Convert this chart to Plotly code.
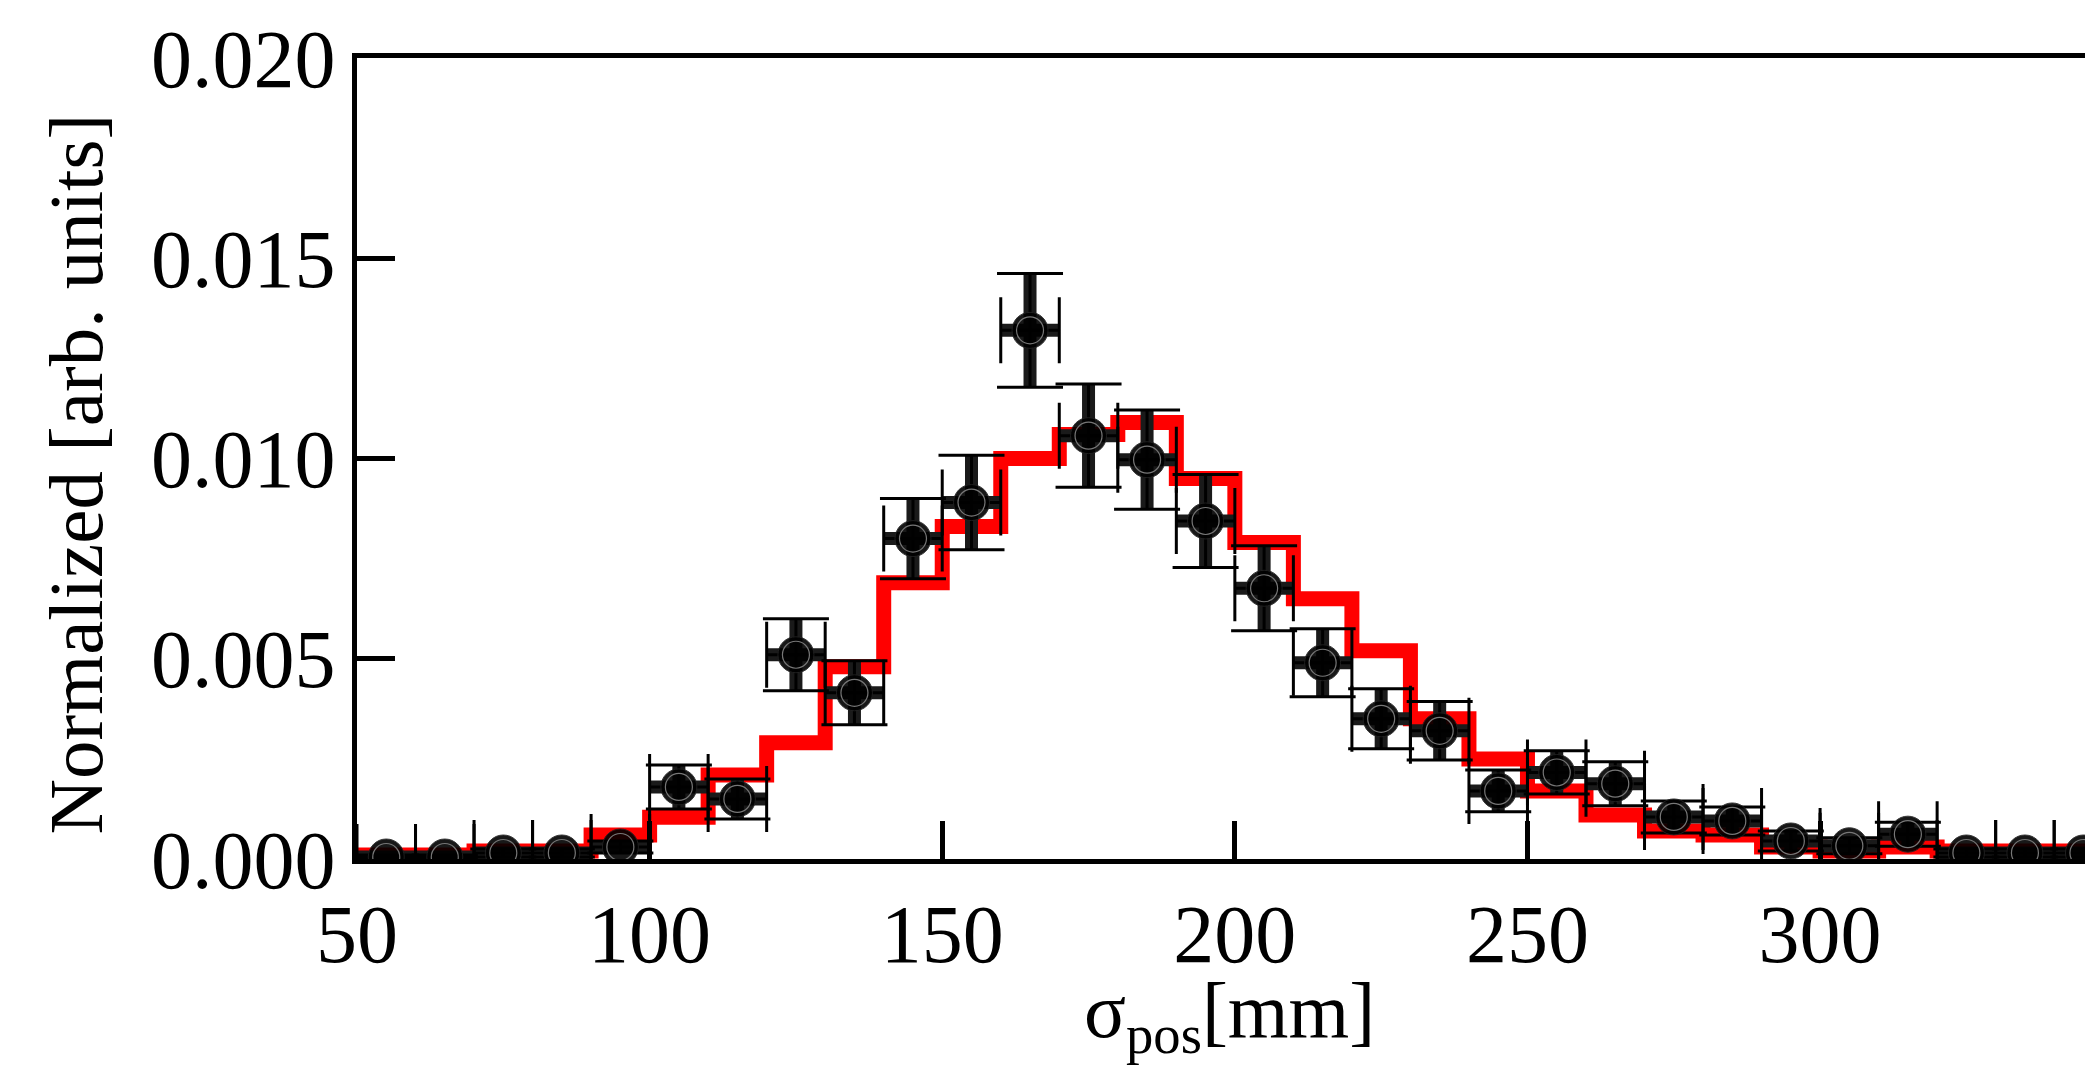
import plotly.graph_objects as go

# Bin layout (mm)
bin_edges = list(range(50, 360, 10))            # 50 ... 350
bin_centers = [e + 5 for e in bin_edges[:-1]]   # 55 ... 345

# Simulation histogram (red step line), one value per bin
sim_values = [0.0001, 0.0001, 0.0002, 0.0002, 0.0006, 0.00104, 0.0021, 0.0029,
              0.0048, 0.0069, 0.0083, 0.0100, 0.0106, 0.0109, 0.0095, 0.0079,
              0.0065, 0.0052, 0.0035, 0.0025, 0.0017, 0.0011, 0.0007, 0.0006,
              0.0003, 0.0002, 0.0003, 0.0002, 0.0002, 0.0002]

# Data points (black markers) with vertical errors
data_values = [0.00005, 0.00005, 0.00015, 0.00015, 0.0003, 0.0018, 0.0015, 0.0051,
               0.00415, 0.0080, 0.0089, 0.0132, 0.01057, 0.00997, 0.00844, 0.00676,
               0.0049, 0.0035, 0.0032, 0.0017, 0.00216, 0.00188, 0.00105, 0.00095,
               0.00045, 0.00033, 0.00062, 0.00015, 0.00015, 0.00015]
data_errors = [0.00005, 0.00005, 0.0001, 0.0001, 0.00015, 0.00055, 0.0005, 0.0009,
               0.0008, 0.0010, 0.00118, 0.00142, 0.00129, 0.00124, 0.00116, 0.00106,
               0.00085, 0.00075, 0.00073, 0.00052, 0.00054, 0.00055, 0.0004, 0.00035,
               0.00025, 0.0002, 0.0003, 0.0001, 0.0001, 0.0001]
half_bin = 5

y_ticks = [0.0, 0.005, 0.010, 0.015, 0.020]
x_ticks = [50, 100, 150, 200, 250, 300]

FONT = "Liberation Serif"
FS = 82

fig = go.Figure()

# red step histogram
fig.add_trace(go.Scatter(
    x=bin_edges, y=sim_values + [sim_values[-1]],
    mode="lines", line=dict(color="#ff0000", width=15, shape="hv"),
    hoverinfo="skip", showlegend=False))

# thick error-bar stems
fig.add_trace(go.Scatter(
    x=bin_centers, y=data_values, mode="markers",
    marker=dict(size=1, color="rgba(0,0,0,0)"),
    error_y=dict(type="data", array=data_errors, visible=True,
                 color="#1a1a1a", thickness=13, width=0),
    error_x=dict(type="constant", value=half_bin, visible=True,
                 color="#1a1a1a", thickness=13, width=0),
    hoverinfo="skip", showlegend=False))

# markers with thin caps
fig.add_trace(go.Scatter(
    x=bin_centers, y=data_values, mode="markers",
    marker=dict(size=36, color="black", opacity=0.9,
                line=dict(color="#222", width=1)),
    error_y=dict(type="data", array=data_errors, visible=True,
                 color="black", thickness=3, width=33),
    error_x=dict(type="constant", value=half_bin, visible=True,
                 color="black", thickness=3, width=33),
    showlegend=False))

# faint inner ring on the markers
fig.add_trace(go.Scatter(
    x=bin_centers, y=data_values, mode="markers",
    marker=dict(symbol="circle-open", size=27, color="#777",
                line=dict(color="#777", width=1.2)),
    hoverinfo="skip", showlegend=False))

fig.update_layout(
    width=2093, height=1072,
    margin=dict(l=349, r=0, t=50, b=221),
    paper_bgcolor="white", plot_bgcolor="white",
    font=dict(family=FONT, size=FS, color="black"),
    xaxis=dict(
        range=[50, 348], tickvals=x_ticks, ticks="inside", ticklen=38,
        tickwidth=5, tickcolor="black", showline=True, linewidth=5,
        linecolor="black", mirror=True, showgrid=False, zeroline=False,
        tickfont=dict(family=FONT, size=FS, color="black"),
    ),
    yaxis=dict(
        range=[0, 0.020], tickvals=y_ticks, tickformat=".3f", ticks="inside",
        ticklen=38, tickwidth=5, tickcolor="black", showline=True,
        linewidth=5, linecolor="black", mirror=False, showgrid=False,
        zeroline=False, tickfont=dict(family=FONT, size=FS, color="black"),
    ),
    annotations=[
        dict(text="Normalized [arb. units]", textangle=-90,
             xref="paper", yref="paper", x=0, y=0.5, xanchor="center",
             yanchor="middle", xshift=-282, yshift=-16, showarrow=False,
             font=dict(family=FONT, size=77, color="black")),
        dict(text="σ<sub>pos</sub>[mm]",
             xref="paper", yref="paper", x=0.5, y=0, xanchor="center",
             yanchor="top", yshift=-106, showarrow=False,
             font=dict(family=FONT, size=78, color="black")),
    ],
)

fig.write_html("out.html")
